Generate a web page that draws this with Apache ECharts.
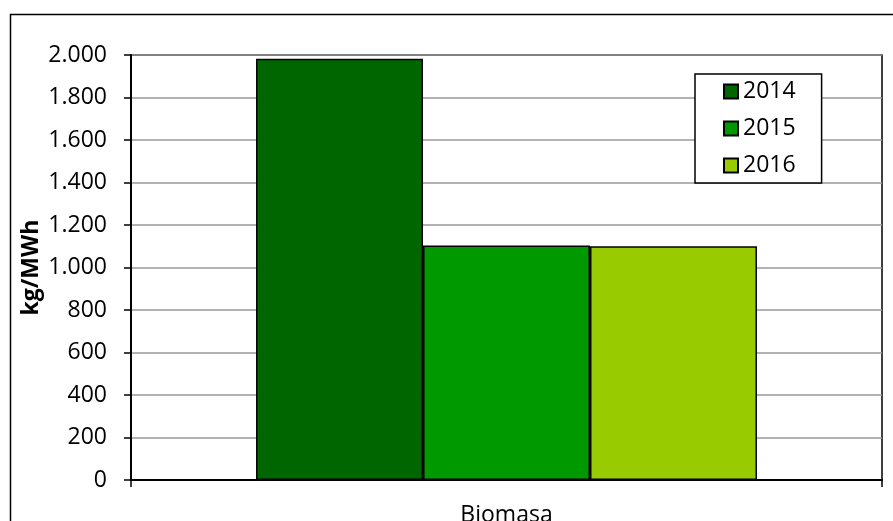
<!DOCTYPE html>
<html>
<head>
<meta charset="utf-8">
<script src="https://cdn.jsdelivr.net/npm/echarts@6/dist/echarts.min.js"></script>
<style>
  html, body { margin: 0; padding: 0; background: #fff; }
  #chart { width: 893px; height: 521px; }
</style>
</head>
<body>
<div id="chart"></div>
<script>
// Emission factor data (kg/MWh) for biomass by year
const categories = ['Biomasa'];
const years = ['2014', '2015', '2016'];
const values2014 = [1982];
const values2015 = [1104];
const values2016 = [1100];
const yTicks = { min: 0, max: 2000, interval: 200 };

const colors = ['#006600', '#009900', '#99cc00'];
const seriesValues = [values2014, values2015, values2016];
const FONT = '"Open Sans", "Liberation Sans", sans-serif';

// Format numbers with a dot as thousands separator
function fmt(v) {
  return String(Math.round(v)).replace(/\B(?=(\d{3})+(?!\d))/g, '.');
}

const chart = echarts.init(document.getElementById('chart'), null, { renderer: 'canvas' });

chart.setOption({
  animation: false,
  backgroundColor: '#ffffff',
  textStyle: { fontFamily: FONT },
  graphic: [{
    type: 'rect',
    left: 8, top: 12,
    shape: { width: 900, height: 530 },
    style: { fill: 'none', stroke: '#000', lineWidth: 1.5 },
    z: -1
  }],
  grid: {
    left: 131, right: 11, top: 55, bottom: 41,
    containLabel: false,
    outerBoundsMode: 'none',
    show: true,
    borderColor: '#000',
    borderWidth: 1.5,
    backgroundColor: 'transparent'
  },
  legend: {
    orient: 'vertical',
    left: 695, top: 74,
    padding: [6, 26, 6, 28],
    itemGap: 14,
    itemWidth: 14, itemHeight: 14,
    itemTextGap: 7,
    backgroundColor: '#fff',
    borderColor: '#000',
    borderWidth: 1.5,
    icon: 'rect',
    textStyle: { fontSize: 23, lineHeight: 23, color: '#000', fontFamily: FONT },
    data: years
  },
  xAxis: {
    type: 'category',
    data: categories,
    axisLine: { lineStyle: { color: '#000', width: 2 } },
    axisTick: { show: true, length: 7, lineStyle: { color: '#000', width: 1.5 } },
    axisLabel: { fontSize: 23, color: '#000', margin: 24, fontFamily: FONT },
    splitLine: { show: false }
  },
  yAxis: {
    type: 'value',
    min: yTicks.min, max: yTicks.max, interval: yTicks.interval,
    name: 'kg/MWh',
    nameLocation: 'middle',
    nameGap: 88,
    nameMoveOverlap: false,
    nameTextStyle: { fontSize: 23, fontWeight: 'bold', color: '#000', fontFamily: FONT },
    axisLine: { show: true, lineStyle: { color: '#000', width: 2 } },
    axisTick: { show: true, length: 7, lineStyle: { color: '#000', width: 1.5 } },
    axisLabel: { fontSize: 23, color: '#000', margin: 24, formatter: fmt, fontFamily: FONT },
    splitLine: { show: true, lineStyle: { color: '#999', width: 1.5 } }
  },
  series: years.map((y, i) => ({
    name: y,
    type: 'bar',
    data: seriesValues[i],
    barGap: '0%',
    barCategoryGap: '33.3%',
    itemStyle: { color: colors[i], borderColor: '#000', borderWidth: 1.5 }
  }))
});
</script>
</body>
</html>
